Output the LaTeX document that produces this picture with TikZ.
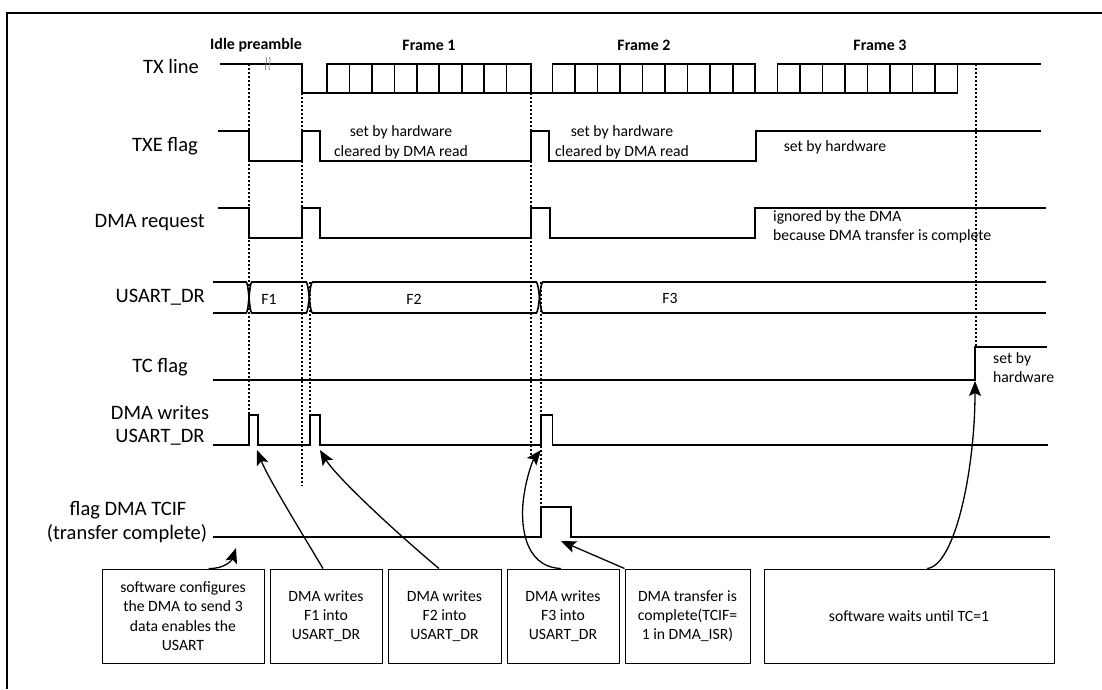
\documentclass[tikz,border=0pt]{standalone}
\usepackage{fontspec}
\setmainfont{Carlito}
\usetikzlibrary{arrows.meta}
\begin{document}
\begin{tikzpicture}[x=1pt,y=-1pt,
  sig/.style={line width=1.6pt, line cap=rect, line join=miter},
  dotl/.style={line width=1.3pt, dash pattern=on 2.2pt off 1.8pt},
  lab/.style={font=\fontsize{20.5}{23}\selectfont, inner sep=0pt},
  hdr/.style={font=\fontsize{15.9}{19}\selectfont\bfseries, inner sep=0pt},
  note/.style={font=\fontsize{15.7}{19.5}\selectfont, inner sep=0pt, align=center},
  box/.style={draw, line width=1pt, inner sep=0pt, align=center, font=\fontsize{15.7}{19.3}\selectfont, minimum height=94pt},
  arr/.style={line width=1.3pt, -{Stealth[length=15pt,width=12pt,inset=3pt]}},
]
\useasboundingbox (0,0) rectangle (1102,689);
\fill[white] (0,0) rectangle (1102,689);
\draw[line width=1.6pt] (7,689) -- (7,13) -- (1102,13);

% headers
\node[hdr] (hIdle) at (256,45) {Idle preamble};
\node[hdr] (hF1) at (429,45) {Frame 1};
\node[hdr] (hF2) at (644,45) {Frame 2};
\node[hdr] (hF3) at (880,45) {Frame 3};

% row labels
\node[lab, anchor=east] (lTX) at (199,66) {TX line};
\node[lab, anchor=east] (lTXE) at (198,146) {TXE flag};
\node[lab, anchor=east] (lREQ) at (205,223) {DMA request};
\node[lab, anchor=east] (lDR) at (205,297) {USART\_DR};
\node[lab, anchor=east] (lTC) at (188,367) {TC flag};
\node[lab] (lDW1) at (160,413) {DMA writes};
\node[lab] (lDW2) at (160,437) {USART\_DR};
\node[lab] (lTF1) at (128,510) {flag DMA TCIF};
\node[lab] (lTF2) at (127,534) {(transfer complete)};

% dotted guides
\draw[dotl] (249,64) -- (249,415);
\draw[dotl] (302,93) -- (302,486);
\draw[dotl] (310,282) -- (310,415);
\draw[dotl] (531,93) -- (531,460);
\draw[dotl] (541,282) -- (541,507);
\draw[dotl] (976,64) -- (976,347);

% TX line
\draw[sig] (221,64) -- (302,64) -- (302,93) -- (957.5,93);
\draw[sig] (327,64) -- (531,64);
\draw[sig] (552.5,64) -- (755,64);
\draw[sig] (777.3,64) -- (1040,64);
\foreach \x in {327,349.4,371.9,394.3,416.8,439.2,461.7,484.1,506.5,531,
                552.5,575,597.5,620,642.5,665,687.5,710,732.8,755,
                777.3,799.8,822.3,844.8,867.3,889.8,912.3,934.8,957.5}
  \draw[sig] (\x,64) -- (\x,93);
\draw[gray, line width=0.7pt] (266,70) .. controls (263.5,66) and (268.5,62) .. (266,57);
\draw[gray, line width=0.7pt] (269.5,70) .. controls (267,66) and (272,62) .. (269.5,57);

% TXE flag
\draw[sig] (218.6,131) -- (249,131) -- (249,161) -- (302,161) -- (302,131) -- (320,131) -- (320,161)
  -- (531,161) -- (531,131) -- (549,131) -- (549,161) -- (756,161) -- (756,131) -- (1040,131);
\node[note] (n1) at (401,142.5) {set by hardware\\cleared by DMA read};
\node[note] (n2) at (622,142.5) {set by hardware\\cleared by DMA read};
\node[note] (n3) at (835,147) {set by hardware};

% DMA request
\draw[sig] (218.6,208) -- (249,208) -- (249,238) -- (302,238) -- (302,208) -- (320,208) -- (320,238)
  -- (531,238) -- (531,208) -- (550,208) -- (550,238) -- (755,238) -- (755,208) -- (1045,208);
\node[note, align=left, anchor=west] (n4) at (773,227) {ignored by the DMA\\because DMA transfer is complete};

% USART_DR bus
\foreach \ya/\yb in {282/313, 313/282}{
  \draw[sig, line cap=butt] (246,\ya) .. controls (249,\ya) and (249,\yb) .. (252,\yb);
  \draw[sig, line cap=butt] (306,\ya) .. controls (309,\ya) and (309.5,\yb) .. (312.5,\yb);
  \draw[sig, line cap=butt] (536,\ya) .. controls (539.5,\ya) and (539.5,\yb) .. (543,\yb);
}
\foreach \yy in {282,313}{
  \draw[sig] (214,\yy) -- (246,\yy);
  \draw[sig] (252,\yy) -- (306,\yy);
  \draw[sig] (312.5,\yy) -- (536,\yy);
  \draw[sig] (543,\yy) -- (1045,\yy);
}
\node[note] (dF1) at (269,299) {F1};
\node[note] (dF2) at (414,299) {F2};
\node[note] (dF3) at (670,298) {F3};

% TC flag
\draw[sig] (214,380) -- (975,380) -- (975,347) -- (1046,347);
\node[note, align=left, anchor=west] (n5) at (993,367.5) {set by\\hardware};

% DMA writes USART_DR
\draw[sig] (214,445) -- (249,445) -- (249,415) -- (258,415) -- (258,445) -- (310,445) -- (310,415)
  -- (320,415) -- (320,445) -- (541,445) -- (541,415) -- (552.5,415) -- (552.5,445) -- (1047,445);

% TCIF
\draw[sig] (214,537) -- (541,537) -- (541,507) -- (571,507) -- (571,537) -- (1049,537);

% boxes
\node[box, minimum width=162pt] (b1) at (183,616) {software configures\\the DMA to send 3\\data enables the\\USART};
\node[box, minimum width=112pt] (b2) at (326,616) {DMA writes\\F1 into\\USART\_DR};
\node[box, minimum width=113pt] (b3) at (444.5,616) {DMA writes\\F2 into\\USART\_DR};
\node[box, minimum width=112pt] (b4) at (563,616) {DMA writes\\F3 into\\USART\_DR};
\node[box, minimum width=125pt] (b5) at (687.5,616) {DMA transfer is\\complete(TCIF=\\1 in DMA\_ISR)};
\node[box, minimum width=290pt] (b6) at (909,616) {software waits until TC=1};

% arrow targets
\coordinate (t1) at (236,548);
\coordinate (t2) at (257,450);
\coordinate (t3) at (320,450);
\coordinate (t4) at (541,450);
\coordinate (t5) at (561,541);
\coordinate (t6) at (975,381);

\draw[arr] ([xshift=107pt]b1.north west) .. controls (225,569) and (232,560) .. (t1);
\draw[arr] ([xshift=-3pt]b2.north) .. controls (303,535) and (268,478) .. (t2);
\draw[arr] ([xshift=-5.5pt]b3.north) .. controls (400,536) and (337,478) .. (t3);
\draw[arr] ([xshift=-2pt]b4.north) .. controls (522,567) and (520,520) .. (524,495)
  .. controls (527,475) and (533,460) .. (t4);
\draw[arr] (b5.north west) -- (t5);
\draw[arr] ([xshift=18pt]b6.north) .. controls (955,566) and (975,470) .. (t6);
\end{tikzpicture}
\end{document}
